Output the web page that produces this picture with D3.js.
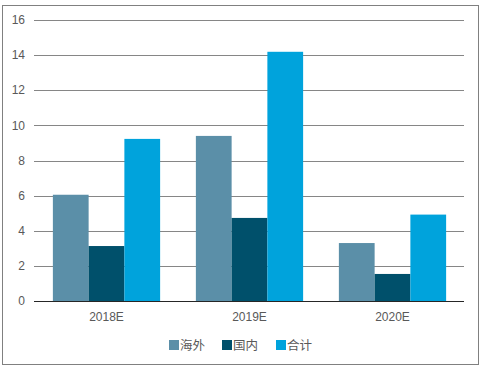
<!DOCTYPE html>
<html>
<head>
<meta charset="utf-8">
<script src="https://cdn.jsdelivr.net/npm/d3@7"></script>
<style>
  body { margin: 0; background: #fff; }
  text { font-family: "Liberation Sans", Arial, sans-serif; fill: #595959; }
  .legend text { font-family: "Noto Sans CJK SC", sans-serif; }
</style>
</head>
<body>
<svg id="chart" width="485" height="370"></svg>
<script>
var categories = ['2018E', '2019E', '2020E'];
var seriesNames = ['海外', '国内', '合计'];
var overseas = [6.05, 9.4, 3.3];
var domestic = [3.13, 4.73, 1.54];
var total = [9.23, 14.19, 4.92];
var yTicks = [0, 2, 4, 6, 8, 10, 12, 14, 16];

var colors = ['#5b8fa8', '#00506b', '#00a3dc'];
var seriesValues = [overseas, domestic, total];

var svg = d3.select('#chart');

var margin = { left: 35, right: 21, top: 20, bottom: 69 },
  width = 485 - margin.left - margin.right,
  height = 370 - margin.top - margin.bottom;

// outer frame
svg.append('rect')
  .attr('x', 2.5).attr('y', 5.5)
  .attr('width', 476).attr('height', 359)
  .attr('fill', 'none')
  .attr('stroke', '#808080');

var g = svg.append('g')
  .attr('transform', 'translate(' + margin.left + ',' + margin.top + ')');

var x = d3.scaleBand().domain(categories).range([0, width])
  .paddingInner(0.25).paddingOuter(0.125);
var xs = d3.scaleBand().domain(seriesNames).range([0, x.bandwidth()]);
var y = d3.scaleLinear().domain([0, 16]).range([height, 0]);

// grid
g.selectAll('.grid')
  .data(yTicks.filter(d => d > 0))
  .enter()
  .append('line')
  .attr('x1', -1).attr('x2', width)
  .attr('y1', d => Math.round(y(d)) + 0.5)
  .attr('y2', d => Math.round(y(d)) + 0.5)
  .attr('stroke', '#868686');

// y labels
g.selectAll('.ylab')
  .data(yTicks)
  .enter()
  .append('text')
  .attr('x', -10)
  .attr('y', d => y(d))
  .attr('dy', '0.35em')
  .attr('text-anchor', 'end')
  .style('font-size', '12px')
  .text(d => d);

// bars
var group = g.selectAll('.cat')
  .data(categories)
  .enter()
  .append('g')
  .attr('transform', d => 'translate(' + x(d) + ',0)');

group.selectAll('rect')
  .data((d, i) => seriesNames.map((s, j) => ({ s: s, v: seriesValues[j][i], c: colors[j] })))
  .enter()
  .append('rect')
  .attr('x', d => xs(d.s))
  .attr('width', xs.bandwidth())
  .attr('y', d => y(d.v))
  .attr('height', d => height - y(d.v))
  .attr('fill', d => d.c);

// baseline
g.append('line')
  .attr('x1', -1).attr('x2', width)
  .attr('y1', Math.round(y(0)) + 0.5).attr('y2', Math.round(y(0)) + 0.5)
  .attr('stroke', '#262626');

// x labels
g.selectAll('.xlab')
  .data(categories)
  .enter()
  .append('text')
  .attr('x', d => x(d) + x.bandwidth() / 2)
  .attr('y', height + 20)
  .attr('text-anchor', 'middle')
  .style('font-size', '12px')
  .text(d => d);

// legend
var legendX = [169, 222, 276];
var legend = svg.append('g').attr('class', 'legend')
  .selectAll('g')
  .data(seriesNames)
  .enter()
  .append('g')
  .attr('transform', (d, i) => 'translate(' + legendX[i] + ',340)');

legend.append('rect')
  .attr('width', 10).attr('height', 10)
  .attr('fill', (d, i) => colors[i]);

legend.append('text')
  .attr('x', 11)
  .attr('y', 10)
  .style('font-size', '12.5px')
  .text(d => d);
</script>
</body>
</html>
